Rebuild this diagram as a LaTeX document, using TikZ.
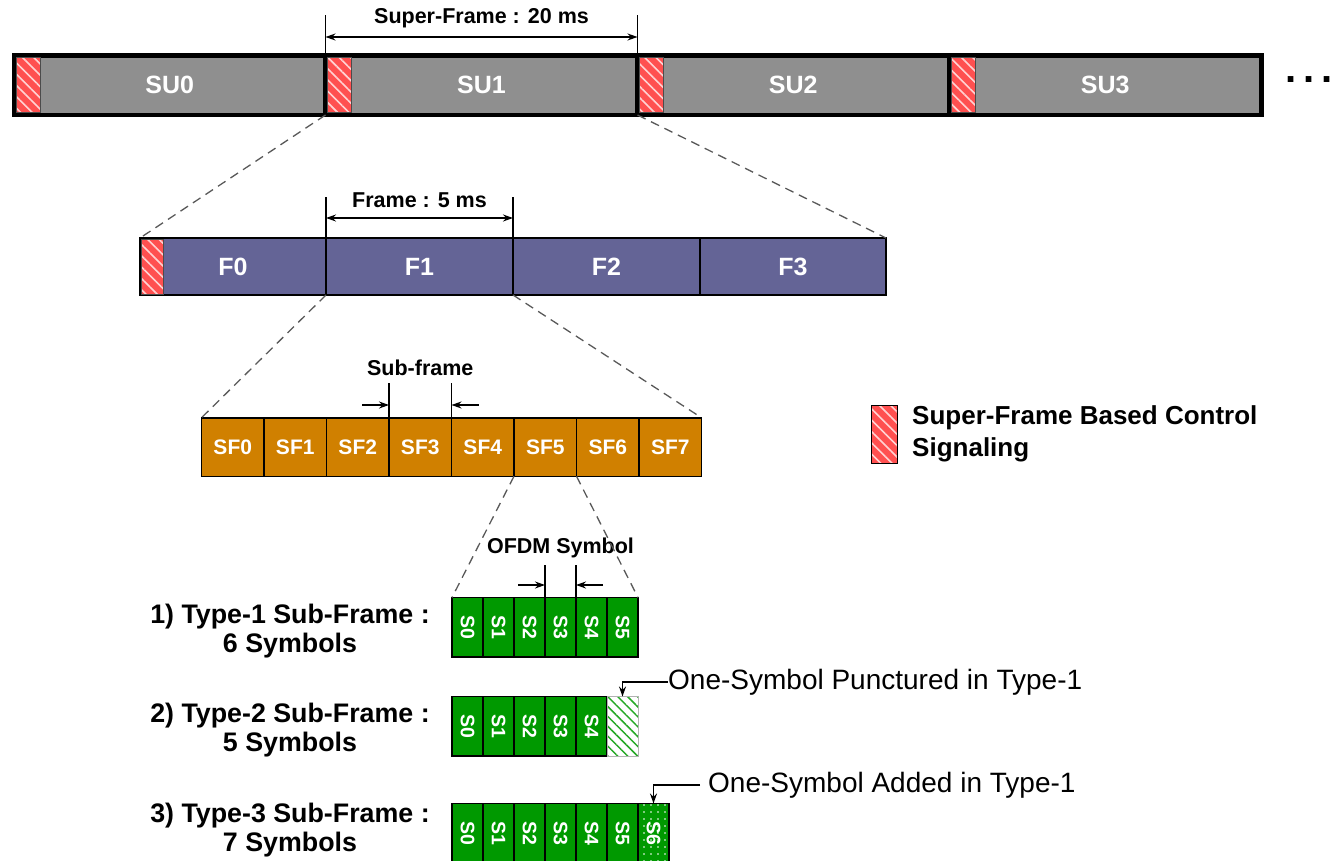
\documentclass[tikz,border=0pt]{standalone}
\usepackage{graphicx}
\usepackage{fontspec}
\setmainfont{Liberation Sans}
\usetikzlibrary{patterns.meta,arrows.meta}
\newcommand{\fsz}[2]{\fontsize{#1}{#2}\selectfont}
\definecolor{sugray}{RGB}{143,143,143}
\definecolor{fpurple}{RGB}{100,100,150}
\definecolor{sforange}{RGB}{208,128,0}
\definecolor{symgreen}{RGB}{0,153,0}
\definecolor{ctrlred}{RGB}{255,80,80}
\begin{document}
\begin{tikzpicture}[x=1pt,y=-1pt,
  >={Stealth[length=10pt,width=7pt]},
  blk/.style={rectangle,inner sep=0pt,outer sep=0pt,anchor=north west,text=white,font=\bfseries\fsz{25}{30}},
  subar/.style={blk,fill=sugray,draw=black,line width=4.5pt,minimum height=59.5pt},
  fbar/.style={blk,fill=fpurple,draw=black,line width=2pt,minimum height=57pt,minimum width=187pt},
  sfbar/.style={blk,fill=sforange,draw=black,line width=1.5pt,minimum height=58.5pt,minimum width=62.5pt,font=\bfseries\fsz{21}{25}},
  sym/.style={blk,fill=symgreen,draw=black,line width=1.2pt,minimum height=59.5pt,minimum width=31pt,font=\bfseries\fsz{19.5}{22}},
  hatchred/.style={rectangle,inner sep=0pt,outer sep=0pt,anchor=north west,draw=black!70,line width=0.6pt,
     preaction={fill=ctrlred},pattern={Lines[angle=-45,distance=8pt,line width=1.6pt]},pattern color=white!75!ctrlred},
  punctbox/.style={blk,draw=black!30,line width=1pt,minimum width=31pt,minimum height=59.5pt,
     preaction={fill=white},pattern={Lines[angle=-45,distance=7pt,line width=1.5pt]},pattern color=symgreen!85},
  dotbox/.style={sym,postaction={pattern={Dots[distance=7pt,radius=0.9pt]},pattern color=white}},
  zoomline/.style={draw=black!65,line width=1.3pt,dash pattern=on 9pt off 6pt},
  dimline/.style={draw=black,line width=1.3pt},
  dimlabel/.style={font=\bfseries\fsz{21.5}{25},inner sep=0pt},
  typelabel/.style={align=center,font=\bfseries\fsz{26.8}{29},inner sep=0pt},
  anno/.style={font=\fsz{28}{32},inner sep=0pt,anchor=west}
]
\useasboundingbox (0,0) rectangle (1341,861);

% ---------- super-frame bar ----------
\node[subar,minimum width=311.5pt] (SU0) at (14,55.5) {SU0};
\node[subar,minimum width=312pt] (SU1) at (325.5,55.5) {SU1};
\node[subar,minimum width=311.5pt] (SU2) at (637.5,55.5) {SU2};
\node[subar,minimum width=312.5pt] (SU3) at (949,55.5) {SU3};
\node[hatchred,minimum width=24pt,minimum height=55pt] (C0) at (16.25,57.75) {};
\node[hatchred,minimum width=24pt,minimum height=55pt] (C1) at (327.75,57.75) {};
\node[hatchred,minimum width=24pt,minimum height=55pt] (C2) at (639.75,57.75) {};
\node[hatchred,minimum width=24pt,minimum height=55pt] (C3) at (951.25,57.75) {};
\node[font=\bfseries\fsz{40}{40},inner sep=0pt] (more) at (1309,80) {.\hspace{7pt}.\hspace{7pt}.};

% super-frame dimension
\coordinate (sfL) at ([yshift=40.5pt]SU1.north west);
\coordinate (sfR) at ([yshift=40.5pt]SU1.north east);
\draw[dimline] (SU1.north west) -- (sfL);
\draw[dimline] (SU1.north east) -- (sfR);
\draw[dimline,<->] ([yshift=18.5pt]SU1.north west) -- ([yshift=18.5pt]SU1.north east);
\node[dimlabel] (sftext) at ([yshift=37.5pt]SU1.north) {Super-Frame : 20 ms};

% ---------- frame bar ----------
\node[fbar,minimum width=186pt] (F0) at (140,238) {F0};
\node[fbar] (F1) at (326,238) {F1};
\node[fbar] (F2) at (513,238) {F2};
\node[fbar,minimum width=186pt] (F3) at (700,238) {F3};
\node[hatchred,minimum width=22pt,minimum height=55pt] (FC) at (141,239) {};

\coordinate (frL) at ([yshift=41pt]F1.north west);
\coordinate (frR) at ([yshift=41pt]F1.north east);
\draw[dimline] (F1.north west) -- (frL);
\draw[dimline] (F1.north east) -- (frR);
\draw[dimline,<->] ([yshift=20pt]F1.north west) -- ([yshift=20pt]F1.north east);
\node[dimlabel] (frtext) at ([yshift=38pt]F1.north) {Frame : 5 ms};

% ---------- sub-frame bar ----------
\foreach \i in {0,...,7}
  \node[sfbar] (SF\i) at ({201.5+62.5*\i},417.75) {SF\i};

\coordinate (subL) at ([yshift=34.75pt]SF3.north west);
\coordinate (subR) at ([yshift=34.75pt]SF3.north east);
\draw[dimline] (SF3.north west) -- (subL);
\draw[dimline] (SF3.north east) -- (subR);
\draw[dimline,->] ([xshift=-27pt,yshift=12.75pt]SF3.north west) -- ([yshift=12.75pt]SF3.north west);
\draw[dimline,->] ([xshift=27pt,yshift=12.75pt]SF3.north east) -- ([yshift=12.75pt]SF3.north east);
\node[dimlabel] (subtext) at ([yshift=49.75pt]SF3.north) {Sub-frame};

% ---------- OFDM symbols ----------
\foreach \i in {0,...,5}
  \node[sym] (A\i) at ({452+31*\i},597.5) {\rotatebox{-90}{S\i}};
\foreach \i in {0,...,4}
  \node[sym] (B\i) at ({452+31*\i},696.5) {\rotatebox{-90}{S\i}};
\node[punctbox] (B5) at (607,696.5) {};
\foreach \i in {0,...,5}
  \node[sym] (D\i) at ({452+31*\i},803.5) {\rotatebox{-90}{S\i}};
\node[dotbox] (D6) at (638,803.5) {\rotatebox{-90}{S6}};

\coordinate (ofL) at ([yshift=32.5pt]A3.north west);
\coordinate (ofR) at ([yshift=32.5pt]A3.north east);
\draw[dimline] (A3.north west) -- (ofL);
\draw[dimline] (A3.north east) -- (ofR);
\draw[dimline,->] ([xshift=-27pt,yshift=12.5pt]A3.north west) -- ([yshift=12.5pt]A3.north west);
\draw[dimline,->] ([xshift=27pt,yshift=12.5pt]A3.north east) -- ([yshift=12.5pt]A3.north east);
\node[dimlabel] (oftext) at ([yshift=49.5pt]A3.north) {OFDM Symbol};

% ---------- zoom lines ----------
\draw[zoomline] (SU1.south west) -- (F0.north west);
\draw[zoomline] (SU1.south east) -- (F3.north east);
\draw[zoomline] (F1.south west) -- (SF0.north west);
\draw[zoomline] (F1.south east) -- (SF7.north east);
\draw[zoomline] (SF5.south west) -- (A0.north west);
\draw[zoomline] (SF5.south east) -- (A5.north east);

% ---------- type labels ----------
\node[typelabel] (T1) at (290,631.5) {1) Type-1 Sub-Frame :\\6 Symbols};
\node[typelabel] (T2) at (290,730.5) {2) Type-2 Sub-Frame :\\5 Symbols};
\node[typelabel] (T3) at (290,830.5) {3) Type-3 Sub-Frame :\\7 Symbols};

% ---------- annotations ----------
\node[anno] (punct) at (668,682) {One-Symbol Punctured in Type-1};
\draw[dimline,->] (punct.west) -| (B5.north);
\node[anno] (added) at (708,785) {One-Symbol Added in Type-1};
\draw[dimline,->] ([xshift=-8pt]added.west) -| (D6.north);

% ---------- legend ----------
\node[hatchred,minimum width=26pt,minimum height=58pt,draw=black,line width=1pt] (legbox) at (871,405) {};
\node[anchor=west,align=left,inner sep=0pt,font=\bfseries\fsz{26}{32}] (legtext) at (912,434) {Super-Frame Based Control\\Signaling};
\end{tikzpicture}
\end{document}
